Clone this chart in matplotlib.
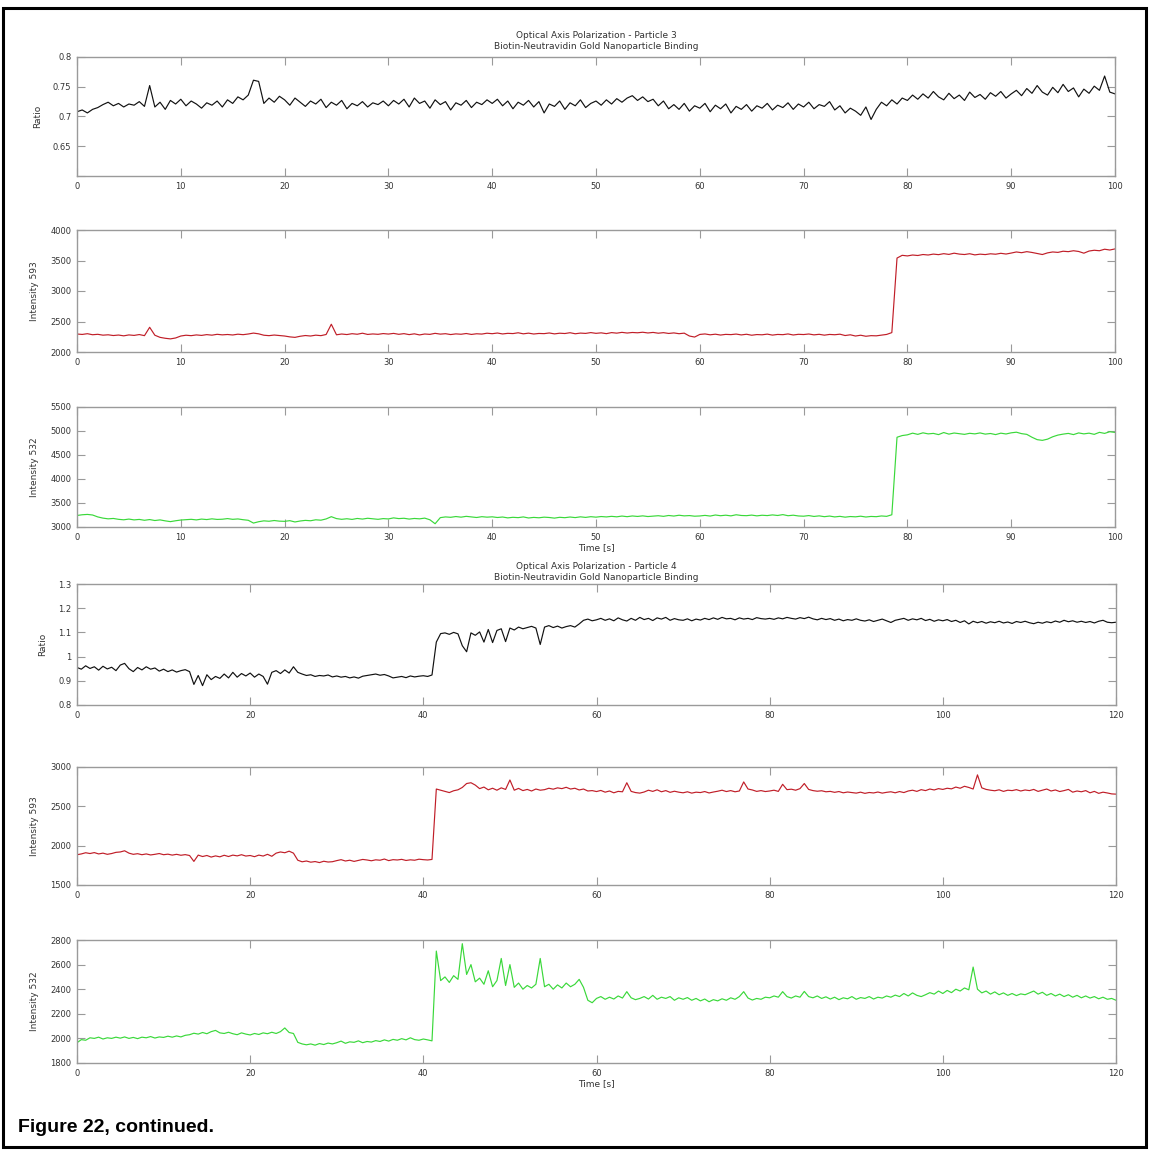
import numpy as np
import matplotlib
matplotlib.use("Agg")
import matplotlib.pyplot as plt
from matplotlib.patches import Rectangle

# ---------------- data (0.5 s sampling) ----------------
p3_ratio = [
    0.708,0.711,0.706,0.712,0.715,0.720,0.724,0.718,0.722,0.716,0.721,0.719,0.725,0.717,0.752,0.716,0.724,0.712,0.727,0.721,
    0.729,0.718,0.726,0.721,0.714,0.723,0.719,0.726,0.716,0.728,0.722,0.733,0.728,0.736,0.761,0.759,0.722,0.731,0.724,0.734,
    0.728,0.719,0.731,0.724,0.717,0.726,0.721,0.729,0.715,0.724,0.719,0.727,0.713,0.722,0.718,0.725,0.716,0.723,0.720,0.726,
    0.718,0.727,0.721,0.729,0.716,0.731,0.722,0.726,0.714,0.728,0.720,0.725,0.711,0.723,0.719,0.727,0.715,0.724,0.720,0.728,
    0.722,0.729,0.718,0.726,0.713,0.724,0.719,0.727,0.716,0.725,0.706,0.721,0.717,0.726,0.712,0.723,0.718,0.728,0.715,0.722,
    0.726,0.719,0.728,0.721,0.730,0.724,0.731,0.735,0.727,0.733,0.725,0.729,0.718,0.726,0.713,0.720,0.712,0.722,0.709,0.718,
    0.714,0.722,0.708,0.719,0.713,0.721,0.706,0.717,0.712,0.720,0.709,0.718,0.714,0.722,0.711,0.719,0.715,0.723,0.712,0.721,
    0.716,0.724,0.713,0.720,0.717,0.725,0.711,0.718,0.706,0.714,0.709,0.702,0.716,0.695,0.712,0.724,0.718,0.728,0.721,0.731,
    0.727,0.736,0.729,0.738,0.731,0.742,0.733,0.728,0.739,0.730,0.736,0.727,0.741,0.732,0.737,0.729,0.740,0.734,0.742,0.731,
    0.738,0.744,0.735,0.747,0.739,0.752,0.741,0.736,0.749,0.740,0.754,0.742,0.748,0.733,0.746,0.739,0.751,0.744,0.768,0.741,
    0.738]
p3_i593 = [
    2295,2288,2300,2283,2290,2276,2282,2270,2278,2265,2280,2272,2286,2268,2405,2275,2240,2225,2215,2230,
    2262,2275,2268,2280,2272,2285,2276,2290,2281,2287,2279,2292,2284,2295,2310,2298,2275,2268,2278,2270,
    2262,2248,2240,2258,2270,2262,2276,2268,2287,2455,2282,2295,2286,2300,2291,2308,2288,2296,2290,2302,
    2294,2305,2290,2301,2285,2298,2280,2295,2289,2306,2293,2300,2286,2297,2291,2303,2288,2299,2294,2308,
    2300,2311,2296,2306,2302,2315,2298,2309,2295,2304,2301,2312,2297,2308,2303,2316,2299,2310,2305,2318,
    2306,2314,2301,2318,2309,2322,2311,2320,2315,2324,2312,2321,2308,2317,2304,2313,2300,2309,2262,2245,
    2288,2296,2282,2292,2278,2289,2285,2294,2280,2291,2275,2286,2282,2293,2277,2288,2284,2296,2279,2290,
    2286,2295,2281,2290,2276,2288,2283,2292,2270,2282,2262,2275,2258,2268,2265,2276,2288,2318,3540,3585,
    3575,3590,3582,3598,3590,3605,3596,3612,3600,3620,3605,3598,3611,3592,3604,3597,3610,3603,3618,3606,
    3622,3640,3628,3645,3632,3615,3598,3625,3640,3633,3652,3645,3660,3648,3620,3655,3668,3660,3685,3672,
    3690]
p3_i532 = [
    3240,3255,3262,3250,3210,3185,3170,3178,3160,3150,3165,3148,3158,3140,3155,3135,3148,3128,3112,3130,
    3145,3152,3160,3148,3165,3155,3170,3158,3162,3175,3160,3168,3152,3140,3082,3110,3128,3120,3135,3122,
    3118,3132,3105,3125,3138,3130,3150,3142,3168,3215,3175,3160,3172,3158,3178,3165,3182,3170,3160,3175,
    3168,3190,3175,3182,3165,3178,3170,3185,3150,3068,3195,3210,3202,3218,3205,3222,3210,3198,3215,3205,
    3212,3198,3208,3190,3202,3195,3210,3188,3200,3192,3205,3198,3185,3202,3194,3208,3196,3212,3200,3215,
    3205,3218,3210,3222,3212,3228,3215,3230,3220,3232,3218,3226,3235,3222,3240,3228,3245,3232,3238,3225,
    3230,3242,3228,3250,3235,3246,3232,3255,3240,3236,3248,3232,3245,3238,3252,3240,3258,3235,3246,3230,
    3225,3238,3220,3232,3215,3228,3210,3222,3205,3218,3212,3225,3208,3220,3215,3230,3222,3255,4870,4905,
    4920,4955,4930,4962,4940,4950,4925,4968,4935,4958,4945,4930,4952,4940,4960,4935,4948,4925,4955,4938,
    4962,4975,4945,4930,4870,4820,4805,4830,4880,4915,4935,4950,4925,4960,4940,4955,4930,4972,4950,4985,
    4970]

p4_ratio = [
    0.955,0.948,0.962,0.951,0.958,0.944,0.960,0.949,0.956,0.942,0.965,0.972,0.950,0.938,0.955,0.945,0.958,0.948,0.953,0.940,
    0.948,0.938,0.945,0.936,0.942,0.946,0.938,0.885,0.922,0.880,0.925,0.905,0.918,0.910,0.928,0.912,0.935,0.915,0.930,0.920,
    0.932,0.915,0.928,0.918,0.886,0.935,0.942,0.930,0.945,0.932,0.958,0.935,0.928,0.922,0.925,0.918,0.922,0.920,0.924,0.916,
    0.920,0.915,0.918,0.912,0.916,0.911,0.919,0.922,0.925,0.928,0.923,0.926,0.920,0.912,0.915,0.918,0.913,0.920,0.916,0.919,
    0.921,0.918,0.924,1.060,1.095,1.098,1.092,1.100,1.094,1.045,1.020,1.098,1.088,1.102,1.060,1.112,1.058,1.108,1.115,1.062,
    1.118,1.110,1.122,1.115,1.120,1.125,1.118,1.050,1.122,1.128,1.120,1.126,1.118,1.124,1.128,1.122,1.135,1.150,1.155,1.148,
    1.152,1.158,1.150,1.156,1.148,1.160,1.152,1.147,1.158,1.150,1.162,1.153,1.158,1.149,1.160,1.155,1.162,1.150,1.157,1.152,
    1.150,1.156,1.148,1.155,1.151,1.158,1.153,1.160,1.154,1.162,1.156,1.158,1.152,1.160,1.155,1.158,1.153,1.161,1.157,1.155,
    1.158,1.154,1.160,1.156,1.162,1.158,1.155,1.161,1.157,1.163,1.156,1.152,1.158,1.153,1.157,1.150,1.155,1.148,1.153,1.150,
    1.156,1.150,1.147,1.152,1.145,1.150,1.155,1.148,1.141,1.150,1.154,1.158,1.150,1.156,1.152,1.158,1.149,1.154,1.146,1.152,
    1.148,1.153,1.145,1.150,1.141,1.148,1.135,1.146,1.140,1.145,1.138,1.144,1.140,1.146,1.139,1.143,1.137,1.145,1.141,1.146,
    1.140,1.136,1.142,1.138,1.144,1.140,1.147,1.142,1.150,1.144,1.148,1.142,1.146,1.141,1.145,1.139,1.146,1.150,1.142,1.140,
    1.142]
p4_i593 = [
    1885,1895,1910,1900,1912,1895,1905,1890,1900,1915,1920,1935,1905,1890,1898,1885,1895,1882,1890,1900,
    1885,1892,1880,1890,1878,1886,1875,1800,1880,1862,1875,1855,1870,1858,1878,1862,1880,1870,1885,1868,
    1875,1860,1880,1868,1890,1865,1905,1920,1910,1930,1905,1815,1795,1805,1790,1798,1785,1802,1792,1796,
    1810,1822,1805,1815,1800,1812,1825,1818,1808,1820,1815,1830,1810,1822,1818,1826,1812,1820,1815,1828,
    1822,1818,1825,2720,2705,2690,2675,2698,2710,2740,2790,2800,2770,2725,2745,2710,2730,2705,2735,2715,
    2835,2705,2728,2700,2715,2695,2720,2705,2712,2730,2718,2735,2725,2742,2720,2730,2708,2720,2695,2700,
    2688,2702,2680,2695,2672,2690,2685,2800,2690,2675,2668,2682,2705,2690,2710,2685,2700,2678,2692,2680,
    2672,2685,2668,2680,2675,2688,2670,2682,2692,2705,2688,2700,2685,2695,2810,2720,2708,2690,2700,2688,
    2695,2705,2690,2780,2712,2718,2705,2725,2790,2715,2700,2692,2698,2685,2690,2678,2688,2672,2682,2675,
    2668,2680,2665,2676,2670,2682,2668,2678,2685,2672,2688,2675,2695,2705,2690,2712,2700,2720,2708,2725,
    2715,2730,2722,2745,2730,2755,2740,2720,2900,2735,2715,2705,2698,2710,2690,2705,2700,2712,2695,2708,
    2700,2715,2690,2705,2720,2695,2708,2688,2700,2715,2680,2695,2685,2700,2672,2690,2665,2680,2670,2658,
    2655]
p4_i532 = [
    1965,1990,1985,2005,2000,2010,1995,2005,2000,2010,2002,2012,2000,2008,1998,2010,2005,2015,2003,2012,
    2008,2018,2010,2020,2012,2025,2030,2042,2035,2048,2038,2055,2065,2045,2040,2050,2038,2030,2045,2035,
    2028,2040,2032,2045,2038,2050,2040,2055,2085,2048,2040,1968,1955,1948,1955,1945,1958,1950,1962,1955,
    1965,1978,1960,1972,1968,1980,1965,1975,1970,1982,1975,1988,1978,1992,1985,1998,1988,2005,1990,1985,
    1995,1988,1980,2710,2470,2500,2455,2510,2480,2770,2520,2600,2460,2490,2440,2550,2420,2470,2650,2430,
    2600,2415,2450,2400,2430,2410,2440,2650,2420,2440,2400,2435,2410,2450,2420,2440,2480,2415,2310,2290,
    2325,2340,2318,2335,2320,2345,2328,2380,2330,2315,2325,2340,2320,2350,2318,2335,2325,2340,2310,2330,
    2318,2332,2310,2325,2305,2320,2298,2315,2305,2322,2310,2330,2318,2340,2380,2328,2312,2325,2318,2335,
    2330,2345,2335,2380,2340,2328,2345,2335,2382,2340,2330,2345,2325,2338,2320,2335,2315,2330,2322,2340,
    2318,2332,2325,2340,2320,2335,2328,2345,2335,2352,2340,2365,2345,2370,2350,2340,2355,2372,2360,2385,
    2365,2390,2372,2400,2385,2410,2395,2580,2400,2370,2385,2360,2378,2355,2370,2350,2365,2348,2362,2355,
    2370,2385,2360,2375,2350,2365,2345,2360,2340,2355,2335,2350,2330,2345,2328,2340,2322,2335,2318,2325,
    2310]

title_p3 = "Optical Axis Polarization - Particle 3\nBiotin-Neutravidin Gold Nanoparticle Binding"
title_p4 = "Optical Axis Polarization - Particle 4\nBiotin-Neutravidin Gold Nanoparticle Binding"
caption = "Figure 22, continued."

t3 = np.arange(len(p3_ratio)) * 0.5
t4 = np.arange(len(p4_ratio)) * 0.5

# ---------------- layout ----------------
W, H = 1149, 1150
fig = plt.figure(figsize=(W / 100, H / 100), dpi=100)
fig.patch.set_facecolor("white")

def rect(l, t, r, b):
    return [l / W, 1 - b / H, (r - l) / W, (b - t) / H]

BLACK = "#111111"
RED = "#c01e28"
GREEN = "#3ad83a"
GRAY = "#9a9a9a"
FS = 6

panels = [
    (rect(77, 57, 1115, 176), t3, p3_ratio, BLACK, "Ratio", (0.6, 0.8),
     [0.6, 0.65, 0.7, 0.75, 0.8], ["", "0.65", "0.7", "0.75", "0.8"], 100, 10, title_p3, False, 6),
    (rect(77, 230, 1115, 352), t3, p3_i593, RED, "Intensity 593", (2000, 4000),
     [2000, 2500, 3000, 3500, 4000], None, 100, 10, None, False, 3),
    (rect(77, 407, 1115, 527), t3, p3_i532, GREEN, "Intensity 532", (3000, 5500),
     [3000, 3500, 4000, 4500, 5000, 5500], None, 100, 10, None, True, 3),
    (rect(77, 584, 1116, 705), t4, p4_ratio, BLACK, "Ratio", (0.8, 1.3),
     [0.8, 0.9, 1.0, 1.1, 1.2, 1.3], ["0.8", "0.9", "1", "1.1", "1.2", "1.3"], 120, 20, title_p4, False, 3),
    (rect(77, 767, 1116, 885), t4, p4_i593, RED, "Intensity 593", (1500, 3000),
     [1500, 2000, 2500, 3000], None, 120, 20, None, False, 3),
    (rect(77, 940, 1116, 1063), t4, p4_i532, GREEN, "Intensity 532", (1800, 2800),
     [1800, 2000, 2200, 2400, 2600, 2800], None, 120, 20, None, True, 3),
]

for (r, t, y, col, ylab, ylim, yt, ytl, xmax, xstep, title, timelab, tpad) in panels:
    ax = fig.add_axes(r)
    ax.plot(t, y, color=col, lw=0.85)
    ax.set_xlim(0, xmax)
    ax.set_ylim(*ylim)
    ax.set_xticks(np.arange(0, xmax + 1, xstep))
    ax.set_yticks(yt)
    if ytl is not None:
        ax.set_yticklabels(ytl)
    ax.tick_params(direction="in", top=True, right=True, length=6, width=0.8,
                   color=GRAY, labelsize=FS, labelcolor="#333333", pad=4)
    for s in ax.spines.values():
        s.set_color(GRAY)
        s.set_linewidth(1.0)
    ax.set_ylabel(ylab, fontsize=6.5, color="#333333", labelpad=8)
    if title:
        ax.set_title(title, fontsize=6.5, color="#333333", pad=tpad, linespacing=1.2)
    if timelab:
        ax.set_xlabel("Time [s]", fontsize=6.5, color="#333333", labelpad=1)

# outer frame
fig.patches.append(Rectangle((3 / W, 1 - 1147 / H), (1146 - 3) / W, (1147 - 8) / H,
                             transform=fig.transFigure, fill=False,
                             edgecolor="black", linewidth=2.2))

fig.text(18 / W, 1 - 1128 / H, caption, fontsize=14, fontweight="bold",
         family=["Liberation Sans", "DejaVu Sans"], va="center", ha="left")

fig.savefig("out.png", dpi=100, facecolor="white")
